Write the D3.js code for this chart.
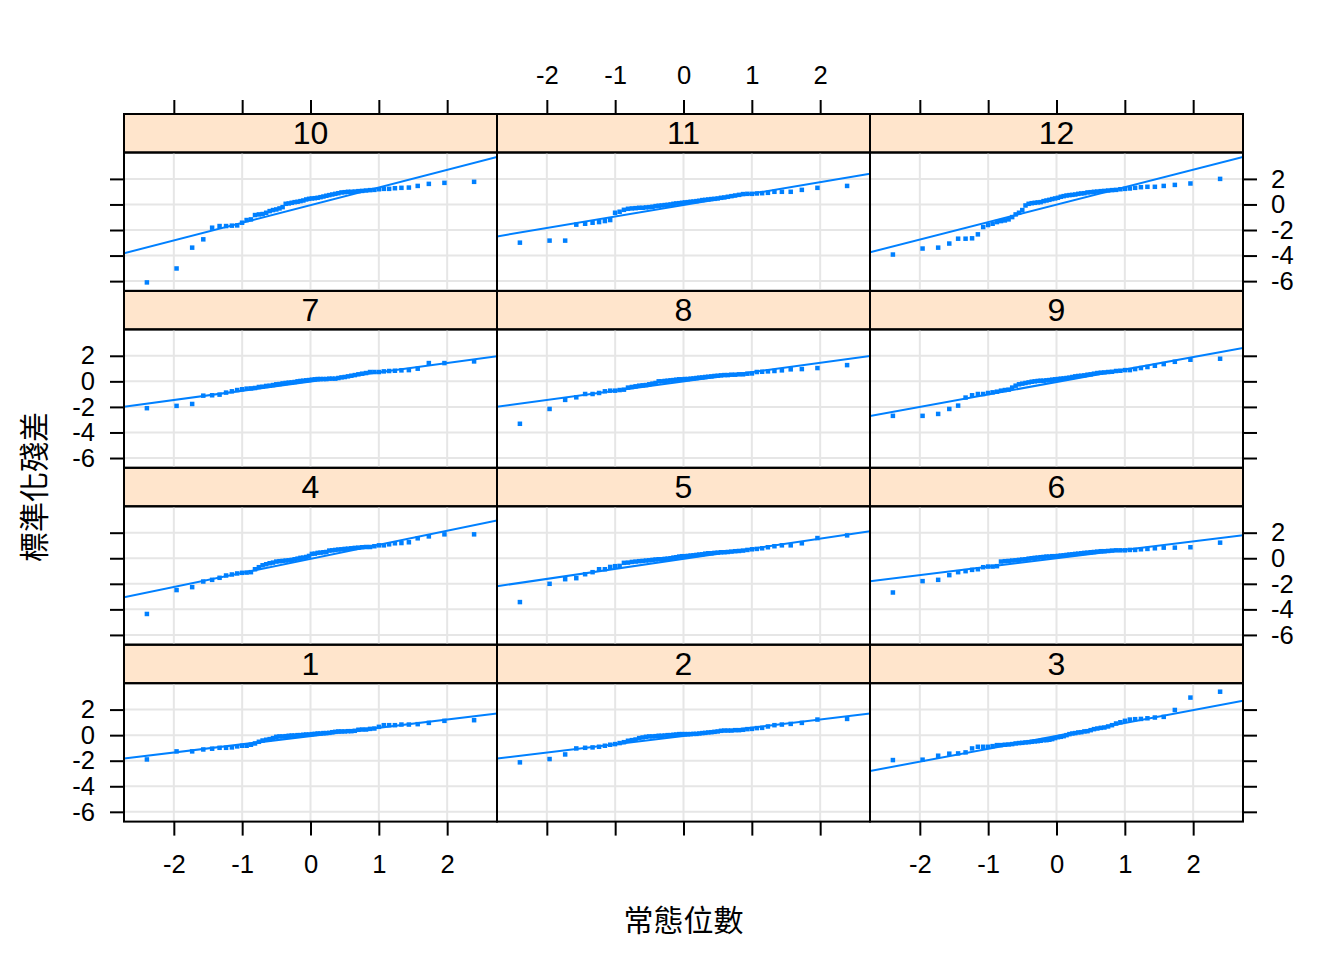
<!DOCTYPE html>
<html>
<head>
<meta charset="utf-8">
<script src="https://cdn.jsdelivr.net/npm/d3@7"></script>
<style>
  html, body { margin: 0; padding: 0; background: #ffffff; }
  svg { display: block; }
  .tick text { font-family: "Liberation Sans", Arial, sans-serif; }
</style>
</head>
<body>
<svg id="chart" width="1344" height="960"></svg>
<script>
// ---- Data (sorted standardized residuals per panel) ----
const panelLabels = ["1","2","3","4","5","6","7","8","9","10","11","12"];

const res1 = [-1.90,-1.27,-1.27,-1.12,-1.06,-0.99,-0.99,-0.96,-0.88,-0.83,-0.83,-0.75,-0.65,-0.52,-0.42,-0.36,-0.31,-0.23,-0.13,-0.10,-0.10,-0.08,-0.05,-0.03,-0.03,0.00,0.00,0.03,0.05,0.05,0.08,0.10,0.13,0.13,0.16,0.16,0.18,0.23,0.26,0.29,0.29,0.29,0.31,0.31,0.34,0.42,0.44,0.44,0.49,0.52,0.65,0.78,0.78,0.78,0.83,0.83,0.86,0.96,1.12,1.17];
const res2 = [-2.13,-1.87,-1.51,-1.04,-0.99,-0.96,-0.91,-0.83,-0.75,-0.70,-0.62,-0.55,-0.44,-0.39,-0.34,-0.23,-0.18,-0.13,-0.10,-0.10,-0.08,-0.05,-0.05,-0.03,0.00,0.00,0.03,0.05,0.08,0.08,0.08,0.08,0.08,0.10,0.10,0.13,0.16,0.18,0.21,0.23,0.26,0.29,0.34,0.36,0.36,0.36,0.39,0.39,0.42,0.47,0.49,0.55,0.57,0.68,0.78,0.83,0.88,0.96,1.22,1.27];
const res3 = [-1.95,-1.92,-1.61,-1.45,-1.43,-1.35,-1.04,-0.91,-0.91,-0.91,-0.86,-0.78,-0.78,-0.75,-0.73,-0.70,-0.65,-0.62,-0.60,-0.57,-0.55,-0.52,-0.49,-0.47,-0.44,-0.39,-0.39,-0.36,-0.31,-0.23,-0.16,-0.13,-0.08,0.00,0.08,0.13,0.16,0.21,0.23,0.29,0.31,0.39,0.47,0.52,0.57,0.60,0.68,0.78,0.91,1.01,1.12,1.22,1.25,1.27,1.32,1.38,1.43,1.97,2.94,3.40];
const res4 = [-4.36,-2.49,-2.26,-1.82,-1.69,-1.53,-1.35,-1.27,-1.19,-1.14,-1.12,-1.09,-0.86,-0.70,-0.55,-0.47,-0.39,-0.34,-0.26,-0.23,-0.21,-0.18,-0.16,-0.13,-0.08,-0.03,0.03,0.05,0.10,0.18,0.34,0.36,0.42,0.44,0.47,0.49,0.60,0.62,0.65,0.68,0.70,0.73,0.75,0.78,0.81,0.83,0.86,0.88,0.88,0.94,1.01,1.01,1.09,1.17,1.19,1.25,1.56,1.71,1.87,1.87];
const res5 = [-3.43,-2.00,-1.64,-1.56,-1.25,-1.09,-0.86,-0.86,-0.68,-0.62,-0.60,-0.36,-0.34,-0.29,-0.26,-0.23,-0.21,-0.18,-0.16,-0.13,-0.10,-0.08,-0.08,-0.05,-0.03,0.00,0.05,0.08,0.13,0.16,0.16,0.18,0.21,0.23,0.26,0.29,0.31,0.36,0.39,0.39,0.42,0.44,0.47,0.47,0.49,0.52,0.55,0.57,0.60,0.65,0.70,0.73,0.78,0.86,0.94,1.01,1.01,1.17,1.58,1.79];
const res6 = [-2.68,-1.79,-1.69,-1.32,-1.09,-1.01,-0.91,-0.86,-0.70,-0.65,-0.65,-0.62,-0.26,-0.23,-0.21,-0.18,-0.16,-0.13,-0.10,-0.08,-0.03,0.00,0.03,0.05,0.08,0.10,0.13,0.13,0.16,0.16,0.18,0.21,0.23,0.26,0.29,0.31,0.34,0.36,0.39,0.42,0.44,0.47,0.49,0.52,0.55,0.55,0.57,0.60,0.62,0.62,0.62,0.65,0.65,0.70,0.73,0.78,0.83,0.83,0.86,1.22];
const res7 = [-2.10,-1.92,-1.77,-1.12,-1.09,-1.04,-0.88,-0.78,-0.68,-0.62,-0.57,-0.55,-0.52,-0.44,-0.42,-0.36,-0.34,-0.29,-0.23,-0.21,-0.16,-0.13,-0.10,-0.08,-0.05,0.00,0.03,0.05,0.08,0.10,0.13,0.16,0.18,0.18,0.18,0.18,0.21,0.21,0.21,0.26,0.31,0.34,0.39,0.44,0.49,0.55,0.60,0.65,0.73,0.73,0.73,0.78,0.81,0.83,0.86,0.88,0.99,1.43,1.43,1.56];
const res8 = [-3.32,-2.16,-1.45,-1.25,-0.99,-0.99,-0.91,-0.78,-0.73,-0.73,-0.68,-0.65,-0.49,-0.44,-0.39,-0.34,-0.31,-0.29,-0.23,-0.18,-0.13,0.00,0.00,0.03,0.05,0.08,0.10,0.13,0.16,0.16,0.18,0.18,0.21,0.23,0.26,0.29,0.31,0.34,0.36,0.39,0.42,0.44,0.47,0.49,0.49,0.52,0.52,0.55,0.55,0.60,0.62,0.73,0.75,0.78,0.81,0.86,0.94,0.96,1.04,1.27];
const res9 = [-2.70,-2.70,-2.55,-2.16,-1.90,-1.27,-1.09,-0.99,-0.99,-0.91,-0.86,-0.81,-0.73,-0.68,-0.65,-0.49,-0.34,-0.23,-0.18,-0.13,-0.08,-0.03,0.00,0.03,0.05,0.05,0.08,0.10,0.13,0.16,0.18,0.21,0.23,0.26,0.29,0.34,0.39,0.42,0.44,0.47,0.52,0.55,0.60,0.65,0.68,0.70,0.73,0.75,0.81,0.83,0.88,0.88,0.96,1.04,1.12,1.22,1.35,1.53,1.69,1.77];
const res10 = [-6.10,-5.01,-3.38,-2.73,-1.82,-1.69,-1.69,-1.66,-1.64,-1.43,-1.22,-1.17,-0.83,-0.78,-0.75,-0.65,-0.52,-0.44,-0.39,-0.31,-0.21,0.05,0.08,0.13,0.18,0.21,0.26,0.31,0.39,0.44,0.47,0.49,0.52,0.57,0.62,0.68,0.73,0.78,0.83,0.88,0.94,0.96,0.99,0.99,1.01,1.04,1.06,1.09,1.12,1.14,1.19,1.22,1.22,1.27,1.30,1.32,1.45,1.61,1.69,1.77];
const res11 = [-2.99,-2.83,-2.83,-1.58,-1.51,-1.43,-1.38,-1.30,-1.22,-0.65,-0.57,-0.42,-0.34,-0.31,-0.29,-0.26,-0.26,-0.23,-0.21,-0.18,-0.13,-0.10,-0.08,-0.05,-0.03,0.00,0.05,0.08,0.10,0.13,0.16,0.18,0.21,0.23,0.26,0.29,0.34,0.36,0.39,0.42,0.44,0.47,0.52,0.55,0.60,0.65,0.70,0.75,0.81,0.83,0.83,0.86,0.88,0.91,0.99,0.99,0.99,1.14,1.30,1.45];
const res12 = [-3.92,-3.45,-3.38,-3.06,-2.68,-2.68,-2.65,-2.34,-1.77,-1.61,-1.51,-1.38,-1.30,-1.25,-1.17,-0.99,-0.78,-0.65,-0.44,-0.08,0.05,0.10,0.13,0.16,0.18,0.26,0.31,0.36,0.42,0.47,0.52,0.60,0.65,0.70,0.73,0.75,0.78,0.83,0.86,0.88,0.94,0.96,0.99,1.01,1.04,1.06,1.09,1.12,1.14,1.19,1.22,1.25,1.30,1.35,1.38,1.38,1.45,1.53,1.64,2.00];

const residuals = [res1,res2,res3,res4,res5,res6,res7,res8,res9,res10,res11,res12];

// reference line per panel (intercept, slope)
const lineIntercept = [-0.07,-0.07,-0.06,-0.05,-0.04,-0.005,-0.01,0.0,-0.05,-0.06,-0.05,-0.01];
const lineSlope     = [0.646,0.645,1.007,1.10,0.788,0.66,0.726,0.727,0.974,1.38,0.898,1.368];

const xTicks = [-2,-1,0,1,2];
const yTicks = [-6,-4,-2,0,2];
const xTitle = "常態位數";
const yTitle = "標準化殘差";

// ---- theoretical normal quantiles (qqmath stat) ----
function qnorm(p) {
  const a = [-3.969683028665376e+01, 2.209460984245205e+02, -2.759285104469687e+02, 1.383577518672690e+02, -3.066479806614716e+01, 2.506628277459239e+00];
  const b = [-5.447609879822406e+01, 1.615858368580409e+02, -1.556989798598866e+02, 6.680131188771972e+01, -1.328068155288572e+01];
  const c = [-7.784894002430293e-03, -3.223964580411365e-01, -2.400758277161838e+00, -2.549671324505606e+00, 4.374664141464968e+00, 2.938163982698783e+00];
  const d = [7.784695709041462e-03, 3.224671290700398e-01, 2.445134137142996e+00, 3.754408661907416e+00];
  const pl = 0.02425, ph = 1 - pl;
  let q, r;
  if (p < pl) { q = Math.sqrt(-2*Math.log(p)); return (((((c[0]*q+c[1])*q+c[2])*q+c[3])*q+c[4])*q+c[5]) / ((((d[0]*q+d[1])*q+d[2])*q+d[3])*q+1); }
  if (p > ph) { q = Math.sqrt(-2*Math.log(1-p)); return -(((((c[0]*q+c[1])*q+c[2])*q+c[3])*q+c[4])*q+c[5]) / ((((d[0]*q+d[1])*q+d[2])*q+d[3])*q+1); }
  q = p - 0.5; r = q*q;
  return (((((a[0]*r+a[1])*r+a[2])*r+a[3])*r+a[4])*r+a[5])*q / (((((b[0]*r+b[1])*r+b[2])*r+b[3])*r+b[4])*r+1);
}

// ---- layout ----
const svg = d3.select("#chart");
const L = 124, colW = 373, T = 114, rowH = 176.9, stripH = 38.5;
const nCols = 3, nRows = 4;
const tickFont = "25.6px";
const blue = "#0080ff";
const fmt = d => String(d);   // plain hyphen-minus like R
const blank = () => "";

const allX = [];
const panels = residuals.map((vals, k) => {
  const n = vals.length;
  const xs = d3.range(n).map(i => qnorm((i + 0.5) / n));
  xs.forEach(v => allX.push(v));
  return {label: panelLabels[k], pts: vals.map((v, i) => ({x: xs[i], y: v})), a: lineIntercept[k], b: lineSlope[k]};
});
const allY = residuals.flat();
function pad(ext) { const d = ext[1] - ext[0]; return [ext[0] - 0.07*d, ext[1] + 0.07*d]; }
const xDom = pad(d3.extent(allX));
const yDom = pad(d3.extent(allY));

const defs = svg.append("defs");

panels.forEach((p, k) => {
  const col = k % nCols;
  const row = nRows - 1 - Math.floor(k / nCols);
  const x0 = L + col * colW, x1 = x0 + colW;
  const rTop = T + row * rowH;
  const py0 = rTop + stripH, py1 = rTop + rowH;
  const x = d3.scaleLinear().domain(xDom).range([x0, x1]);
  const y = d3.scaleLinear().domain(yDom).range([py1, py0]);

  const g = svg.append("g");
  const cid = "clip" + k;
  defs.append("clipPath").attr("id", cid).append("rect")
    .attr("x", x0).attr("y", py0).attr("width", colW).attr("height", py1 - py0);

  // strip
  g.append("rect").attr("x", x0).attr("y", rTop).attr("width", colW).attr("height", stripH)
    .attr("fill", "#ffe5cc").attr("stroke", "#000").attr("stroke-width", 2);
  g.append("text").attr("x", (x0 + x1) / 2).attr("y", rTop + stripH / 2)
    .attr("text-anchor", "middle").attr("dominant-baseline", "central")
    .attr("font-family", "Liberation Sans, Arial, sans-serif").attr("font-size", "32px")
    .attr("fill", "#000").text(p.label);

  const inner = g.append("g").attr("clip-path", `url(#${cid})`);
  // grid
  inner.selectAll(".gv").data(xTicks).join("line")
    .attr("x1", d => x(d)).attr("x2", d => x(d)).attr("y1", py0).attr("y2", py1)
    .attr("stroke", "#e6e6e6").attr("stroke-width", 2);
  inner.selectAll(".gh").data(yTicks).join("line")
    .attr("y1", d => y(d)).attr("y2", d => y(d)).attr("x1", x0).attr("x2", x1)
    .attr("stroke", "#e6e6e6").attr("stroke-width", 2);
  // points
  const s = 4.5;
  inner.selectAll(".pt").data(p.pts).join("rect")
    .attr("x", d => x(d.x) - s/2).attr("y", d => y(d.y) - s/2)
    .attr("width", s).attr("height", s).attr("fill", blue);
  // reference line
  inner.append("line")
    .attr("x1", x(xDom[0])).attr("y1", y(p.a + p.b * xDom[0]))
    .attr("x2", x(xDom[1])).attr("y2", y(p.a + p.b * xDom[1]))
    .attr("stroke", blue).attr("stroke-width", 2);
  // border
  g.append("rect").attr("x", x0).attr("y", py0).attr("width", colW).attr("height", py1 - py0)
    .attr("fill", "none").attr("stroke", "#000").attr("stroke-width", 2);

  // axes
  function styleAxis(sel) {
    sel.select(".domain").remove();
    sel.selectAll(".tick line").attr("stroke", "#000").attr("stroke-width", 2);
    sel.selectAll(".tick text").attr("font-size", tickFont).attr("fill", "#000");
  }
  if (row === 0) {
    const ax = d3.axisTop(x).tickValues(xTicks).tickSize(14).tickPadding(16)
      .tickFormat(col === 1 ? fmt : blank);
    svg.append("g").attr("transform", `translate(0,${rTop})`).call(ax).call(styleAxis);
  }
  if (row === nRows - 1) {
    const ax = d3.axisBottom(x).tickValues(xTicks).tickSize(14).tickPadding(19)
      .tickFormat(col !== 1 ? fmt : blank);
    svg.append("g").attr("transform", `translate(0,${py1})`).call(ax).call(styleAxis);
  }
  if (col === 0) {
    const ax = d3.axisLeft(y).tickValues(yTicks).tickSize(14).tickPadding(15)
      .tickFormat(row % 2 === 1 ? fmt : blank);
    svg.append("g").attr("transform", `translate(${x0},0)`).call(ax).call(styleAxis);
  }
  if (col === nCols - 1) {
    const ax = d3.axisRight(y).tickValues(yTicks).tickSize(14).tickPadding(14)
      .tickFormat(row % 2 === 0 ? fmt : blank);
    svg.append("g").attr("transform", `translate(${x1},0)`).call(ax).call(styleAxis);
  }
});

// titles
svg.append("text").attr("x", L + colW * 1.5).attr("y", 918)
  .attr("text-anchor", "middle").attr("dominant-baseline", "central")
  .attr("font-family", "Noto Sans CJK TC, sans-serif").attr("font-size", "30px")
  .attr("fill", "#000").text(xTitle);
svg.append("text").attr("transform", "translate(32,487) rotate(-90)")
  .attr("text-anchor", "middle").attr("dominant-baseline", "central")
  .attr("font-family", "Noto Sans CJK TC, sans-serif").attr("font-size", "30px")
  .attr("fill", "#000").text(yTitle);
</script>
</body>
</html>
